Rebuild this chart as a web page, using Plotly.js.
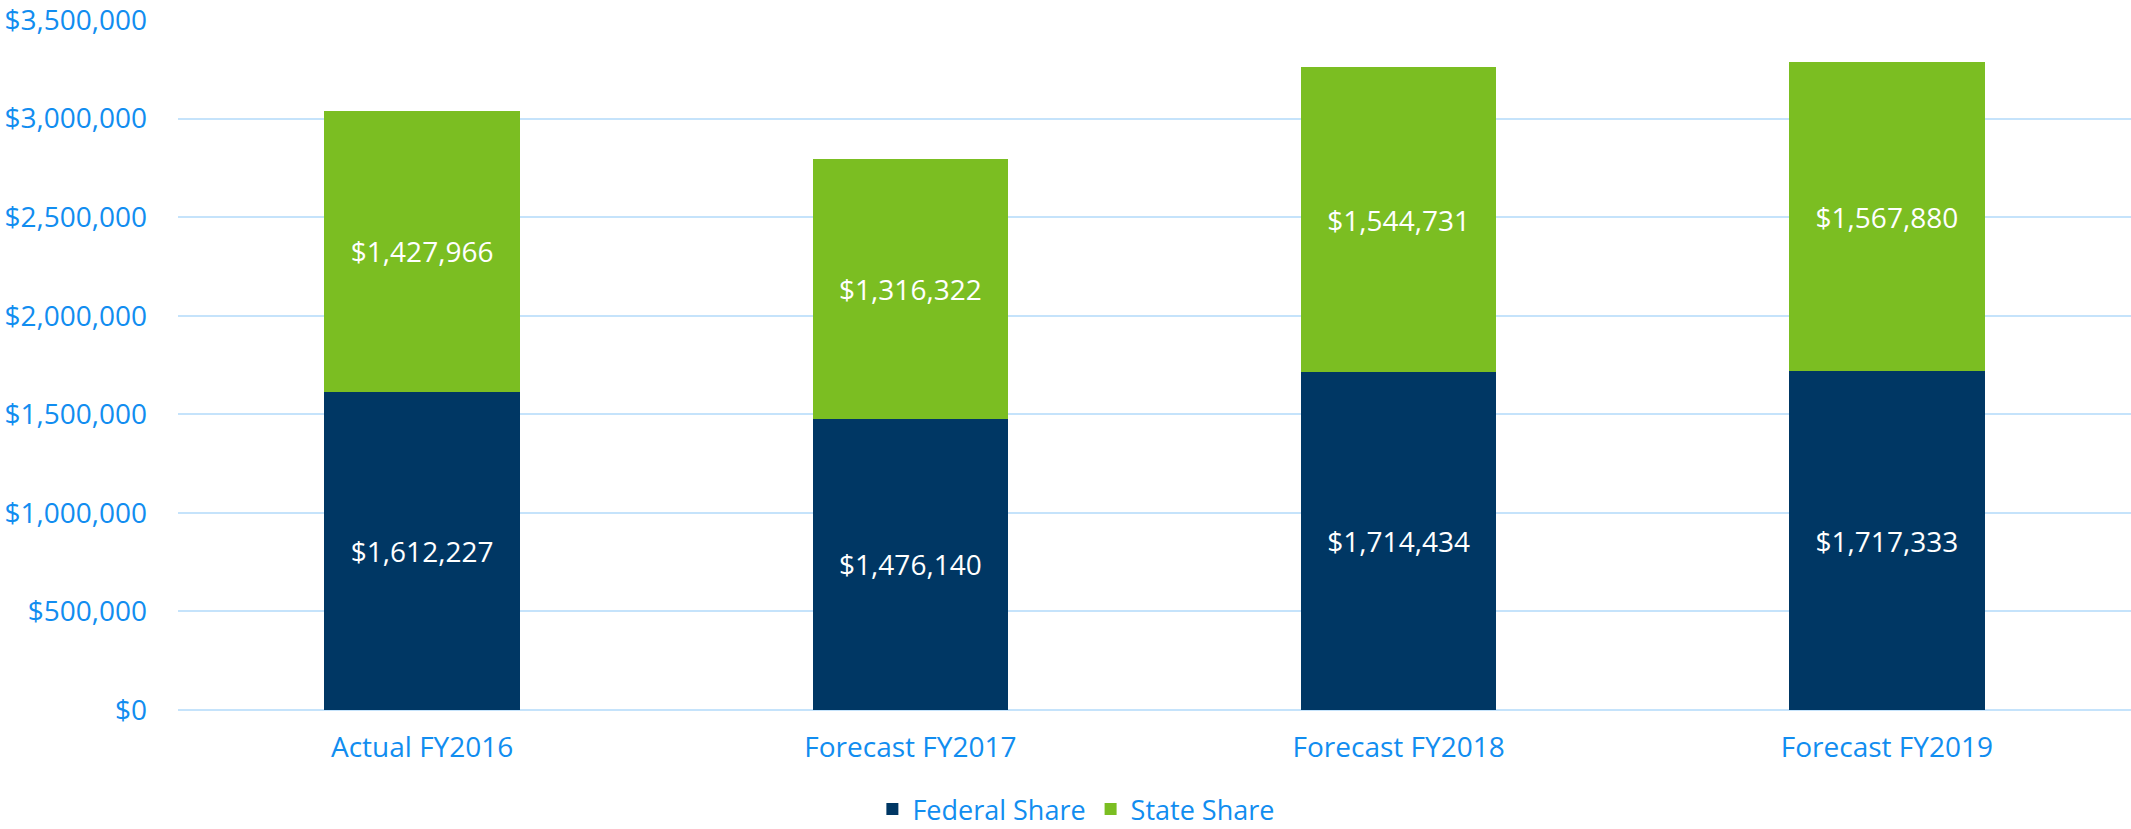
<!DOCTYPE html>
<html>
<head>
<meta charset="utf-8">
<script src="https://cdn.plot.ly/plotly-3.0.1.min.js"></script>
<style>html,body{margin:0;padding:0;background:#fff;}#chart{width:2131px;height:829px;}</style>
</head>
<body>
<div id="chart"></div>
<script>
const categories = ["Actual FY2016", "Forecast FY2017", "Forecast FY2018", "Forecast FY2019"];
const federalShare = [1612227, 1476140, 1714434, 1717333];
const stateShare = [1427966, 1316322, 1544731, 1567880];
const yTickValues = [0, 500000, 1000000, 1500000, 2000000, 2500000, 3000000, 3500000];

const fmt = v => "$" + v.toLocaleString("en-US");
const FONT = "Open Sans, Noto Sans, sans-serif";
const BLUE_TEXT = "#118df0";
const FS = 28;

const traces = [
  {
    type: "bar", name: "Federal Share", x: categories, y: federalShare,
    marker: {color: "#003764"},
    text: federalShare.map(fmt), textposition: "inside", insidetextanchor: "middle",
    textfont: {color: "#ffffff", size: FS, family: FONT}, hoverinfo: "none"
  },
  {
    type: "bar", name: "State Share", x: categories, y: stateShare,
    marker: {color: "#7bbe22"},
    text: stateShare.map(fmt), textposition: "inside", insidetextanchor: "middle",
    textfont: {color: "#ffffff", size: FS, family: FONT}, hoverinfo: "none"
  }
];

const layout = {
  width: 2131, height: 829,
  barmode: "stack", bargap: 0.6,
  margin: {l: 178, r: 0, t: 19, b: 119, pad: 0, autoexpand: false},
  paper_bgcolor: "#ffffff", plot_bgcolor: "#ffffff",
  font: {family: FONT, size: FS, color: BLUE_TEXT},
  showlegend: true,
  legend: {orientation: "h", x: 0.46, xanchor: "center", y: -0.144, yanchor: "middle",
           font: {family: FONT, size: 27, color: BLUE_TEXT}, traceorder: "normal"},
  xaxis: {type: "category", automargin: false, showgrid: false, showline: false, zeroline: false, ticks: "",
          ticklabelstandoff: 18, tickfont: {family: FONT, size: FS, color: BLUE_TEXT}},
  yaxis: {range: [0, 3505000], automargin: false, tickvals: yTickValues, ticktext: yTickValues.map(fmt),
          ticklabeloverflow: "allow",
          showgrid: true, gridcolor: "#c5e3fb", gridwidth: 2,
          zeroline: true, zerolinecolor: "#c5e3fb", zerolinewidth: 2,
          showline: false, ticks: "", ticklabelstandoff: 30,
          tickfont: {family: FONT, size: FS, color: BLUE_TEXT}}
};

Plotly.newPlot("chart", traces, layout, {displayModeBar: false, staticPlot: true});
</script>
</body>
</html>
